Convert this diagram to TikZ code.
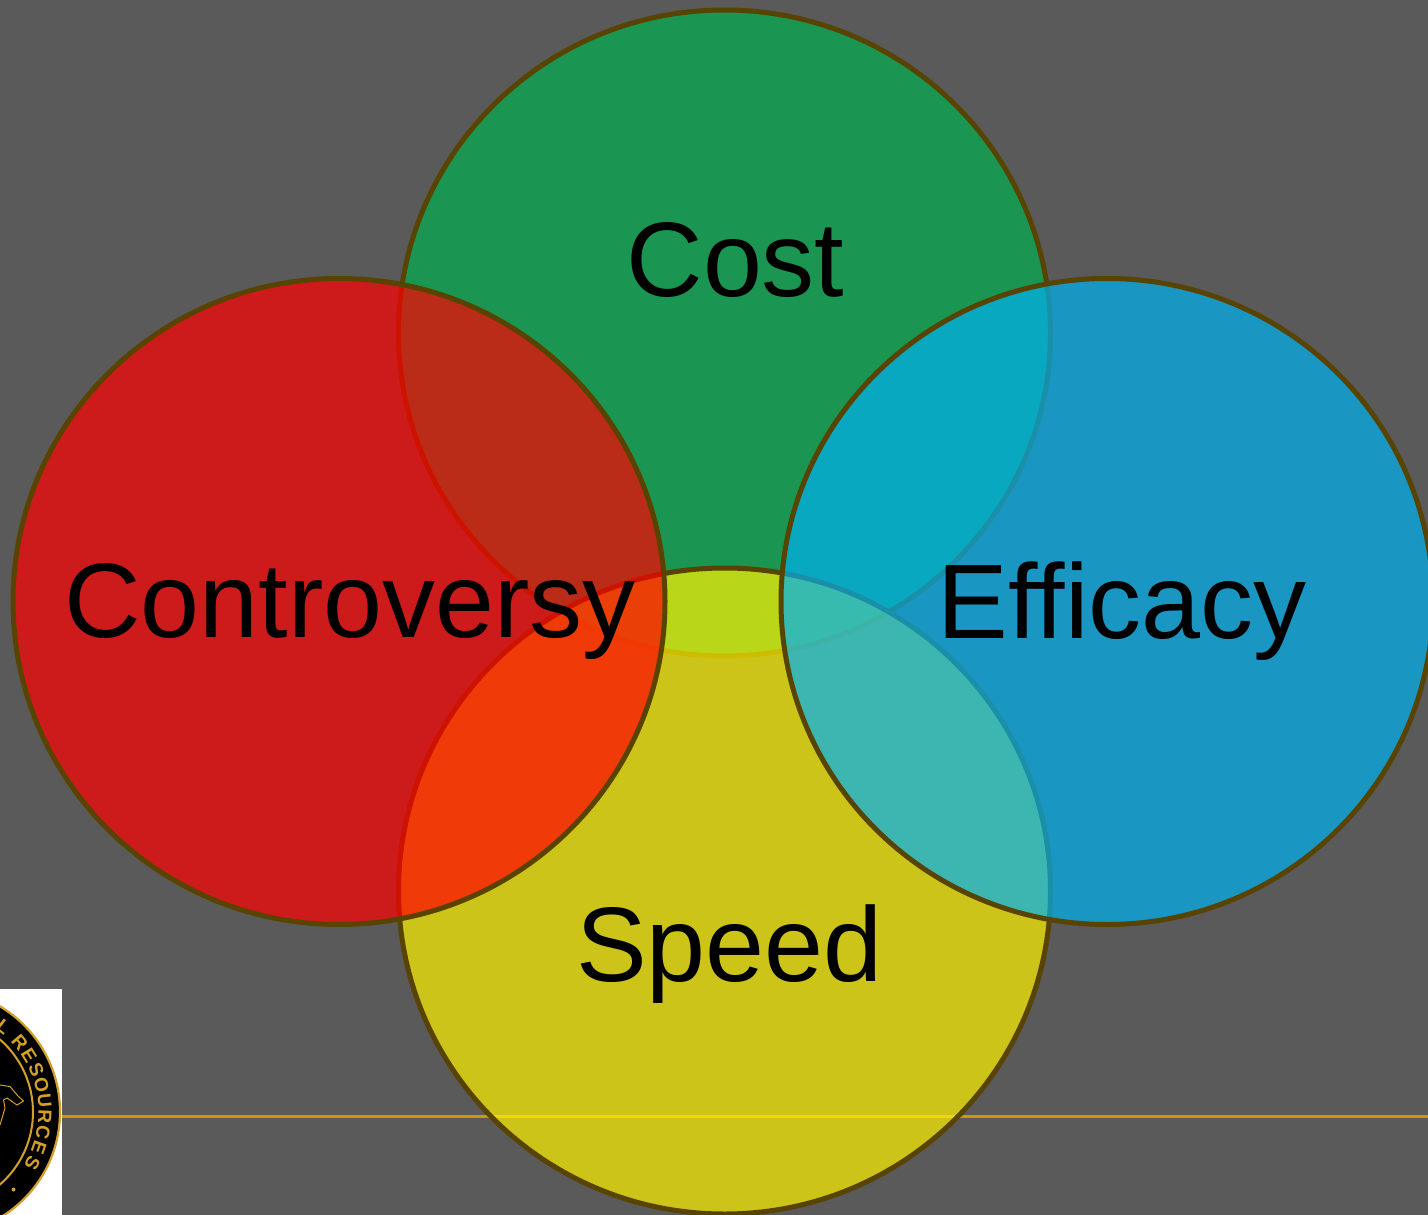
\documentclass[tikz,border=0pt]{standalone}
\usepackage{fontspec}
\setmainfont{Liberation Sans}
\definecolor{bgc}{RGB}{90,90,90}
\definecolor{ringc}{RGB}{89,67,0}
\definecolor{linec}{RGB}{204,153,0}
\definecolor{goldc}{RGB}{212,160,40}
\definecolor{cgreen}{RGB}{0,176,80}
\definecolor{cblue}{RGB}{0,176,240}
\tikzset{
  venn/.style={line width=5pt,draw=ringc,fill=#1,fill opacity=0.7,draw opacity=1},
  biglabel/.style={anchor=base,text=black,inner sep=0pt,font=\fontsize{106}{106}\selectfont},
  seal/.style={text=goldc,inner sep=0pt,font=\fontsize{19}{19}\selectfont\bfseries}
}
\begin{document}
\begin{tikzpicture}[x=1pt,y=-1pt]
\useasboundingbox (0,0) rectangle (1428,1215);
\clip (0,0) rectangle (1428,1215);
\fill[bgc] (0,0) rectangle (1428,1215);
% rule
\fill[linec] (62,1115) rectangle (1428,1118);
% circles, bottom to top
\draw[venn=cgreen] (724.5,333) ellipse (326 and 323);
\draw[venn=yellow] (724.5,891) ellipse (326 and 323);
\draw[venn=red] (339,601.5) ellipse (326 and 323);
\draw[venn=cblue] (1107,601.5) ellipse (326 and 323);
% labels
\node[biglabel] (cost) at (735.5,296) {Cost};
\node[biglabel] (controversy) at (350,637) {Controversy};
\node[biglabel] (efficacy) at (1122,638) {Efficacy};
\node[biglabel] (speed) at (729.5,981) {Speed};
% seal logo
\fill[white] (0,989) rectangle (62,1215);
\begin{scope}
\clip (0,989) rectangle (62,1215);
\fill[black] (-63,1112) circle (123.5);
\draw[goldc,line width=2.2pt] (-63,1112) circle (123);
\draw[goldc,line width=2pt] (-63,1112) circle (96);
\foreach \c/\a in {L/52,R/40,E/31.5,S/23,O/14.5,U/6,R/-2.5,C/-11,E/-19.5,S/-28}{
  \node[seal,rotate=\a-90] at ({-63+108*cos(\a)},{1112-108*sin(\a)}) {\c};
}
\fill[goldc] (13.5,1189.5) circle (2);
\draw[goldc,line width=1pt,line join=round] (0,1085) -- (10,1086.5) -- (18,1096) -- (23.5,1101) -- (17,1105) -- (7,1098) -- (3.5,1100) -- (5,1108) -- (1.5,1120) -- (0,1125);
\end{scope}
\end{tikzpicture}
\end{document}
